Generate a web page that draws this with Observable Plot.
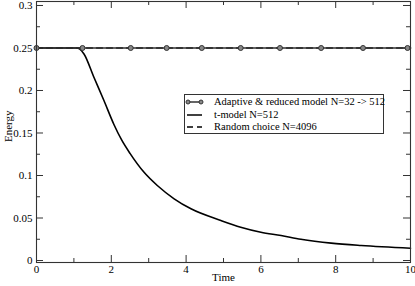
<!DOCTYPE html>
<html>
<head>
<meta charset="utf-8">
<script src="https://cdn.jsdelivr.net/npm/d3@7"></script>
<script src="https://cdn.jsdelivr.net/npm/@observablehq/plot@0.6"></script>
<style>
  body { margin: 0; background: #fff; }
  #wrap { position: relative; width: 415px; height: 286px; font-family: "Liberation Serif", "DejaVu Serif"; }
  #wrap svg text { font-family: "Liberation Serif", "DejaVu Serif" !important; }
  #legend { position: absolute; left: 184px; top: 94px; width: 198px; height: 38px; border: 1px solid #333; background: #fff; font-size: 10.5px; color: #000; font-family: "Liberation Serif", "DejaVu Serif"; }
  .row { position: absolute; left: 0; height: 12px; line-height: 12px; }
  .row svg { position: absolute; left: 0; top: 0; }
  .row span { position: absolute; left: 29px; white-space: nowrap; }
</style>
</head>
<body>
<div id="wrap"></div>
<script>
// Adaptive & reduced model N=32 -> 512 (circle markers)
const adaptiveTime = [0, 1.23, 2.52, 3.48, 4.42, 5.46, 6.51, 7.61, 8.73, 9.92];
const adaptiveEnergy = [0.25, 0.25, 0.25, 0.25, 0.25, 0.25, 0.25, 0.25, 0.25, 0.25];
const adaptiveLineTime = [0, 10];
const adaptiveLineEnergy = [0.25, 0.25];

// t-model N=512
const tmodelTime = [0, 1.07, 1.15, 1.27, 1.535, 1.8, 2.07, 2.28, 2.5, 2.87, 3.23, 3.68, 4.13, 4.93, 5.46, 6.0, 6.54, 7.07, 7.88, 8.68, 10];
const tmodelEnergy = [0.25, 0.25, 0.249, 0.243, 0.2156, 0.1885, 0.16, 0.1415, 0.126, 0.104, 0.0882, 0.0726, 0.0608, 0.0471, 0.0392, 0.0333, 0.0294, 0.025, 0.0204, 0.0176, 0.0145];

// Random choice N=4096 (hidden under the adaptive line)
const randomTime = [0, 10];
const randomEnergy = [0.25, 0.25];

const legendLabels = ["Adaptive & reduced model N=32 -> 512", "t-model N=512", "Random choice N=4096"];

const xMajor = [0, 2, 4, 6, 8, 10];
const xMinor = [1, 3, 5, 7, 9];
const yMajor = [0, 0.05, 0.1, 0.15, 0.2, 0.25, 0.3];
const yMinor = [0.025, 0.075, 0.125, 0.175, 0.225, 0.275];

const W = 415, H = 286;
const mL = 36, mR = 5, mT = 1, mB = 24;
const pw = W - mL - mR, ph = H - mT - mB;

const adaptive = adaptiveTime.map((t, i) => ({t, e: adaptiveEnergy[i]}));
const adaptiveLine = adaptiveLineTime.map((t, i) => ({t, e: adaptiveLineEnergy[i]}));
const tmodel = tmodelTime.map((t, i) => ({t, e: tmodelEnergy[i]}));
const random = randomTime.map((t, i) => ({t, e: randomEnergy[i]}));

const axisColor = "#333";
const serif = "Liberation Serif";

const chart = Plot.plot({
  width: W, height: H,
  marginLeft: mL, marginRight: mR, marginTop: mT, marginBottom: mB,
  style: {fontFamily: serif, fontSize: "11px", color: "#000", background: "#fff"},
  x: {domain: [0, 10], ticks: xMajor, tickSize: 0, tickPadding: 3, tickFormat: d => String(d)},
  y: {domain: [-0.00235, 0.3047], ticks: yMajor, tickSize: 0, tickPadding: 4, tickFormat: d => String(d)},
  marks: [
    Plot.axisX({ticks: xMajor, tickSize: 0, tickPadding: 3, tickFormat: d => String(d), label: null}),
    Plot.axisY({ticks: yMajor, tickSize: 0, tickPadding: 4, tickFormat: d => String(d), label: null}),
    Plot.ruleX(xMajor, {x: d => d, insetTop: ph - 7, stroke: axisColor}),
    Plot.ruleX(xMinor, {x: d => d, insetTop: ph - 4, stroke: axisColor}),
    Plot.ruleX(xMajor, {x: d => d, insetBottom: ph - 7, stroke: axisColor}),
    Plot.ruleX(xMinor, {x: d => d, insetBottom: ph - 4, stroke: axisColor}),
    Plot.ruleY(yMajor, {y: d => d, insetRight: pw - 7, stroke: axisColor}),
    Plot.ruleY(yMinor, {y: d => d, insetRight: pw - 4, stroke: axisColor}),
    Plot.ruleY(yMajor, {y: d => d, insetLeft: pw - 7, stroke: axisColor}),
    Plot.ruleY(yMinor, {y: d => d, insetLeft: pw - 4, stroke: axisColor}),
    Plot.line(random, {x: "t", y: "e", stroke: "#000", strokeWidth: 1.5, strokeDasharray: "6,4"}),
    Plot.line(tmodel, {x: "t", y: "e", stroke: "#000", strokeWidth: 1.6, curve: "monotone-x"}),
    Plot.line(adaptiveLine, {x: "t", y: "e", stroke: "#333", strokeWidth: 1.6}),
    Plot.dot(adaptive, {x: "t", y: "e", r: 2.5, fill: "#888", stroke: "#333", strokeWidth: 1}),
    Plot.frame({stroke: axisColor, strokeWidth: 1.1}),
    Plot.text(["Time"], {frameAnchor: "bottom", dy: 18, fontSize: 11, fill: "#000"}),
    Plot.text(["Energy"], {frameAnchor: "left", dx: -28, dy: 10, rotate: -90, fontSize: 11, fill: "#000"})
  ]
});

const wrap = document.getElementById("wrap");
wrap.appendChild(chart);

const legend = document.createElement("div");
legend.id = "legend";
const rowTops = [1, 14, 26];
const symbols = [
  `<svg width="28" height="12"><line x1="3" y1="6" x2="16" y2="6" stroke="#333" stroke-width="1.5"/><circle cx="3" cy="6" r="2" fill="#888" stroke="#333"/><circle cx="16" cy="6" r="2" fill="#888" stroke="#333"/></svg>`,
  `<svg width="28" height="12"><line x1="2" y1="6" x2="17" y2="6" stroke="#000" stroke-width="1.5"/></svg>`,
  `<svg width="28" height="12"><line x1="2" y1="6" x2="17" y2="6" stroke="#000" stroke-width="1.5" stroke-dasharray="6,4"/></svg>`
];
legendLabels.forEach((lab, i) => {
  const row = document.createElement("div");
  row.className = "row";
  row.style.top = rowTops[i] + "px";
  row.innerHTML = symbols[i] + `<span>${lab}</span>`;
  legend.appendChild(row);
});
wrap.appendChild(legend);
</script>
</body>
</html>
